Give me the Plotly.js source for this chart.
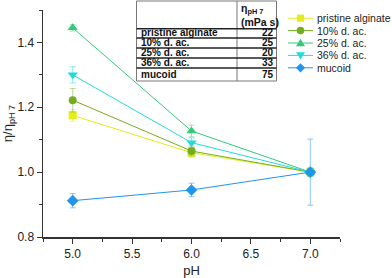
<!DOCTYPE html>
<html><head><meta charset="utf-8">
<script src="https://cdn.plot.ly/plotly-3.0.1.min.js"></script>
<style>html,body{margin:0;padding:0;background:#fff}</style>
</head><body><div id="chart" style="width:392px;height:278px"></div>
<script>
// ---- data ----
const pH = [5.0, 6.0, 7.0];
const seriesNames = ['pristine alginate', '10% d. ac.', '25% d. ac.', '36% d. ac.', 'mucoid'];
const pristine    = [1.175, 1.060, 1.0];
const pristineErr = [0.018, 0.015, 0.012];
const dac10       = [1.222, 1.065, 1.0];
const dac10Err    = [0.036, 0.015, 0.012];
const dac25       = [1.445, 1.127, 1.0];
const dac25Err    = [0.010, 0.018, 0.012];
const dac36       = [1.300, 1.091, 1.0];
const dac36Err    = [0.025, 0.015, 0.012];
const mucoid      = [0.912, 0.945, 1.0];
const mucoidErr   = [0.022, 0.021, 0.102];
const etaPH7      = [22, 25, 20, 33, 75];

// ---- styles ----
const colors   = ['#e4ec1a', '#76ad1f', '#34c97a', '#22dcdc', '#1f96ee'];
const errCols  = ['rgba(228,236,26,0.55)', 'rgba(118,173,31,0.45)', 'rgba(52,201,122,0.45)', 'rgba(34,220,220,0.5)', 'rgba(31,150,238,0.5)'];
const symbols  = ['square', 'circle', 'triangle-up', 'triangle-down', 'diamond'];
const msizes   = [8, 8, 9, 9, 9];
const ys   = [pristine, dac10, dac25, dac36, mucoid];
const errs = [pristineErr, dac10Err, dac25Err, dac36Err, mucoidErr];

const FONT = 'Liberation Sans, Arial, sans-serif';
const L = 43, R = 340, T = 10, B = 237, W = 392, H = 278;
const px = p => (p - L) / (R - L);
const py = p => (B - p) / (B - T);

const traces = ys.map((y, i) => ({
  x: pH, y: y, name: seriesNames[i], type: 'scatter', mode: 'lines+markers',
  line: {color: colors[i], width: 1},
  marker: {symbol: symbols[i], size: msizes[i], color: colors[i]},
  error_y: {type: 'data', array: errs[i], visible: true, color: errCols[i], thickness: 1, width: 3},
  showlegend: false, cliponaxis: false
}));

const shapes = [];
const annotations = [];

// ---- table ----
const tL = 136.5, tR = 276.5, tTop = 1, tBot = 81, tMid = 237;
shapes.push({type: 'rect', xref: 'paper', yref: 'paper', x0: px(tL), x1: px(tR), y0: py(tBot), y1: py(tTop), line: {color: '#777', width: 1}, fillcolor: 'rgba(255,255,255,1)'});
shapes.push({type: 'line', xref: 'paper', yref: 'paper', x0: px(tMid), x1: px(tMid), y0: py(tBot), y1: py(tTop), line: {color: '#777', width: 1}});
const rowLines = [28.7, 38, 48, 58, 68];
rowLines.forEach(r => shapes.push({type: 'line', xref: 'paper', yref: 'paper', x0: px(tL), x1: px(tR), y0: py(r), y1: py(r), line: {color: '#222', width: 1.5}}));
const rowCenters = [32.8, 42.8, 52.8, 62.8, 74.8];
const cellFont = {family: FONT, size: 10, color: '#111'};
seriesNames.forEach((n, i) => {
  annotations.push({xref: 'paper', yref: 'paper', x: px(140), y: py(rowCenters[i]), xanchor: 'left', yanchor: 'middle', showarrow: false, borderpad: 0,
    text: '<b>' + n + '</b>', font: cellFont});
  annotations.push({xref: 'paper', yref: 'paper', x: px(274.5), y: py(rowCenters[i]), xanchor: 'right', yanchor: 'middle', showarrow: false, borderpad: 0,
    text: '<b>' + etaPH7[i] + '</b>', font: cellFont});
});
annotations.push({xref: 'paper', yref: 'paper', x: px(239.5), y: py(8.5), xanchor: 'left', yanchor: 'middle', showarrow: false, borderpad: 0,
  text: '<b>η<sub>pH 7</sub></b>', font: {family: FONT, size: 10.5, color: '#111'}});
annotations.push({xref: 'paper', yref: 'paper', x: px(239.5), y: py(22.0), xanchor: 'left', yanchor: 'middle', showarrow: false, borderpad: 0,
  text: '<b>(mPa s)</b>', font: {family: FONT, size: 10.5, color: '#111'}});

// ---- legend (drawn manually for compact spacing) ----
const legY = [18.2, 30.6, 43.0, 55.4, 67.8];
const lx0 = 288, lx1 = 313, lxc = 300.5;
seriesNames.forEach((n, i) => {
  const yc = legY[i];
  shapes.push({type: 'line', xref: 'paper', yref: 'paper', x0: px(lx0), x1: px(lx1), y0: py(yc), y1: py(yc), line: {color: colors[i], width: 1}});
  const s = 3.6;
  let path;
  if (symbols[i] === 'square') path = `M${px(lxc - s)},${py(yc - s)} L${px(lxc + s)},${py(yc - s)} L${px(lxc + s)},${py(yc + s)} L${px(lxc - s)},${py(yc + s)} Z`;
  else if (symbols[i] === 'triangle-up') path = `M${px(lxc)},${py(yc - 4.2)} L${px(lxc + 4.5)},${py(yc + 3.2)} L${px(lxc - 4.5)},${py(yc + 3.2)} Z`;
  else if (symbols[i] === 'triangle-down') path = `M${px(lxc)},${py(yc + 4.2)} L${px(lxc + 4.5)},${py(yc - 3.2)} L${px(lxc - 4.5)},${py(yc - 3.2)} Z`;
  else if (symbols[i] === 'diamond') path = `M${px(lxc)},${py(yc - 4.6)} L${px(lxc + 4.6)},${py(yc)} L${px(lxc)},${py(yc + 4.6)} L${px(lxc - 4.6)},${py(yc)} Z`;
  if (symbols[i] === 'circle') {
    shapes.push({type: 'circle', xref: 'paper', yref: 'paper', x0: px(lxc - 3.8), x1: px(lxc + 3.8), y0: py(yc + 3.8), y1: py(yc - 3.8), line: {width: 0}, fillcolor: colors[i]});
  } else {
    shapes.push({type: 'path', xref: 'paper', yref: 'paper', path: path, line: {width: 0}, fillcolor: colors[i]});
  }
  annotations.push({xref: 'paper', yref: 'paper', x: px(316), y: py(yc), xanchor: 'left', yanchor: 'middle', showarrow: false, borderpad: 0,
    text: n, font: {family: FONT, size: 10.5, color: '#222'}});
});

const axisCommon = {
  showline: true, linecolor: '#333', linewidth: 1.5, showgrid: false, zeroline: false,
  ticks: 'outside', ticklen: 5, tickwidth: 1, tickcolor: '#333',
  tickfont: {family: FONT, size: 12, color: '#222'}, automargin: false
};

const layout = {
  width: W, height: H,
  margin: {l: L, r: W - R, t: T, b: H - B},
  paper_bgcolor: '#fff', plot_bgcolor: '#fff',
  showlegend: false,
  font: {family: FONT, color: '#222'},
  xaxis: Object.assign({}, axisCommon, {
    range: [4.75, 7.25], tick0: 5, dtick: 0.5, tickformat: '.1f',
    minor: {dtick: 0.25, tick0: 5, ticks: 'outside', ticklen: 3, tickcolor: '#333'},
    title: {text: 'pH', font: {family: FONT, size: 13, color: '#222'}, standoff: 12}
  }),
  yaxis: Object.assign({}, axisCommon, {
    range: [0.8, 1.5], tick0: 0.8, dtick: 0.2, tickformat: '.1f',
    minor: {dtick: 0.1, tick0: 0.8, ticks: 'outside', ticklen: 3, tickcolor: '#333'},
    title: {text: 'η/η<sub>pH 7</sub>', font: {family: FONT, size: 13, color: '#222'}, standoff: 2}
  }),
  shapes: shapes,
  annotations: annotations
};

Plotly.newPlot('chart', traces, layout, {displayModeBar: false, staticPlot: true});
</script>
</body></html>
